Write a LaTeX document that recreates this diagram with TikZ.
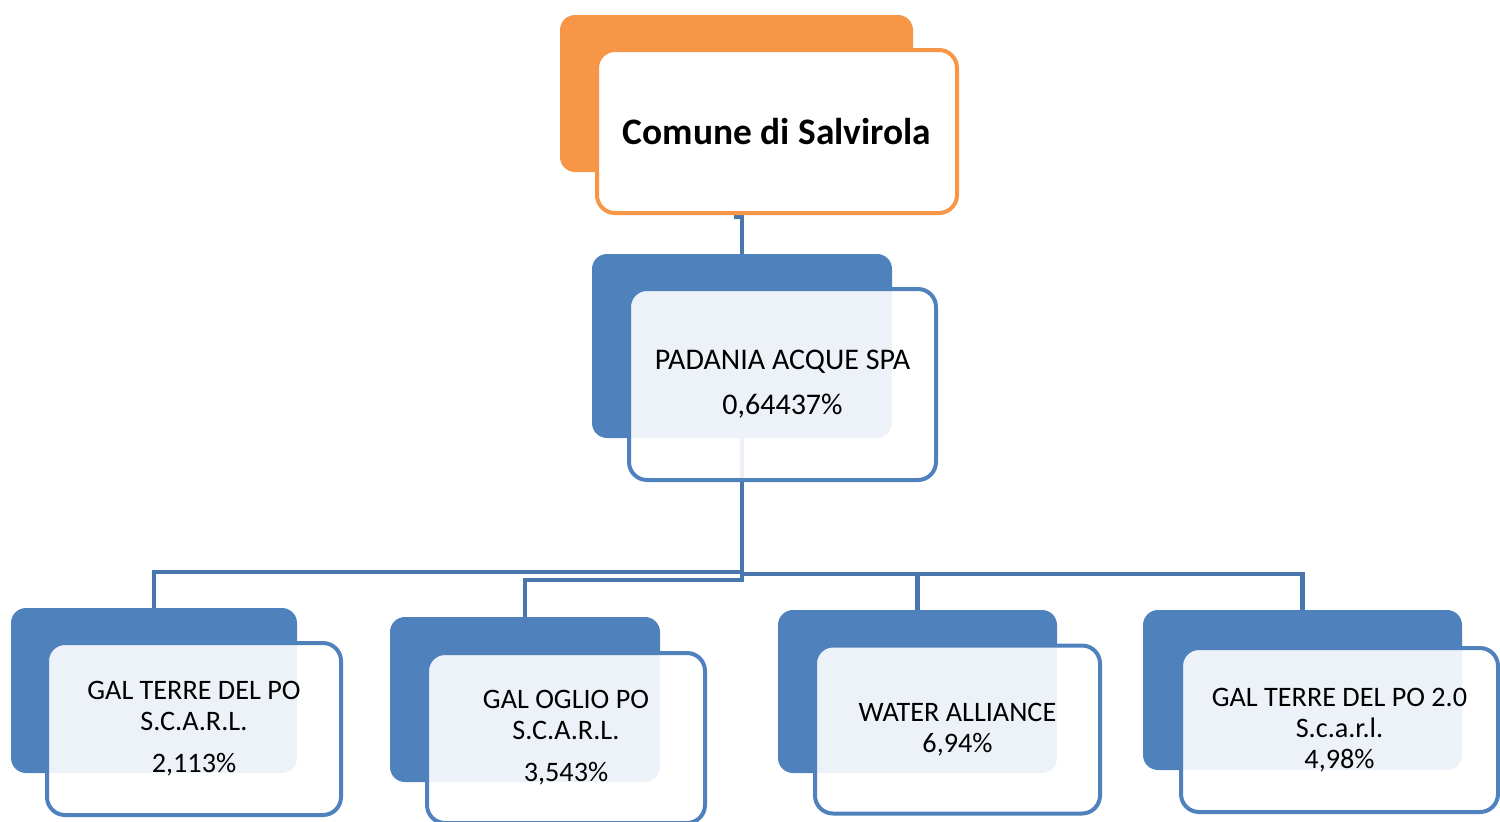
\documentclass[tikz,border=0pt]{standalone}
\usepackage{fontspec}
\setmainfont{Carlito}
\usepackage{tikz}

\definecolor{orgorange}{HTML}{F79646}
\definecolor{orgblue}{HTML}{4F81BD}
\definecolor{orgline}{HTML}{4A76AE}

\begin{document}
\begin{tikzpicture}[x=0.5pt,y=-0.5pt,
	backorange/.style={fill=orgorange,rounded corners=7.5pt,inner sep=0pt},
	frontorange/.style={draw=orgorange,line width=2pt,fill=white,rounded corners=9pt,inner sep=0pt,align=center,font=\fontsize{18.7}{22}\selectfont\bfseries},
	backblue/.style={fill=orgblue,rounded corners=7.5pt,inner sep=0pt},
	frontblue/.style={draw=orgblue,line width=2pt,fill=white,fill opacity=0.9,text opacity=1,rounded corners=9pt,inner sep=0pt,align=center,font=\fontsize{14.1}{15.5}\selectfont},
	conn/.style={draw=orgline,line width=2.2pt}]
		\useasboundingbox (0,0) rectangle (1500,821);

		% back boxes
		\node[backorange,minimum width=176.5pt,minimum height=78.5pt] (comback) at (736.5,93.5) {};
		\node[backblue,minimum width=150pt,minimum height=92pt] (padback) at (742,346) {};
		\node[backblue,minimum width=143pt,minimum height=82.5pt] (terreback) at (154,690.5) {};
		\node[backblue,minimum width=135pt,minimum height=82.5pt] (oglioback) at (525,699.5) {};
		\node[backblue,minimum width=139.5pt,minimum height=81.5pt] (waterback) at (917.5,691.5) {};
		\node[backblue,minimum width=159.5pt,minimum height=80pt] (terretwoback) at (1302.5,690) {};

		% connectors
		\draw[conn] (comback.south) -- (comback.south |- 0,217) -| (padback.north);
		\draw[conn] (padback.south) -- (padback.south |- 0,572) -| (terreback.north);
		\draw[conn] (padback.south) -- (padback.south |- 0,580) -| (oglioback.north);
		\draw[conn] (padback.south) -- (padback.south |- 0,574) -| (waterback.north);
		\draw[conn] (padback.south) -- (padback.south |- 0,574) -| (terretwoback.north);

		% front boxes
		\node[frontorange,minimum width=180pt,minimum height=81.5pt] (comune) at (777,131.5) {Comune di Salvirola};
		\node[frontblue,font=\fontsize{15}{15.5}\selectfont,minimum width=153.5pt,minimum height=95.5pt] (padania) at (782.5,384.5) {PADANIA ACQUE SPA\\[7pt]0,64437\%};
		\node[frontblue,minimum width=147pt,minimum height=86pt] (terre) at (194,729) {GAL TERRE DEL PO\\S.C.A.R.L.\\[5.5pt]2,113\%};
		\node[frontblue,minimum width=139pt,minimum height=85pt] (oglio) at (566,738) {GAL OGLIO PO\\S.C.A.R.L.\\[5.5pt]3,543\%};
		\node[frontblue,minimum width=142.5pt,minimum height=84pt] (water) at (957.5,729.5) {WATER ALLIANCE\\6,94\%};
		\node[frontblue,minimum width=158.5pt,minimum height=82pt] (terretwo) at (1339.5,730) {GAL TERRE DEL PO 2.0\\S.c.a.r.l.\\4,98\%};

	\end{tikzpicture}
\end{document}
